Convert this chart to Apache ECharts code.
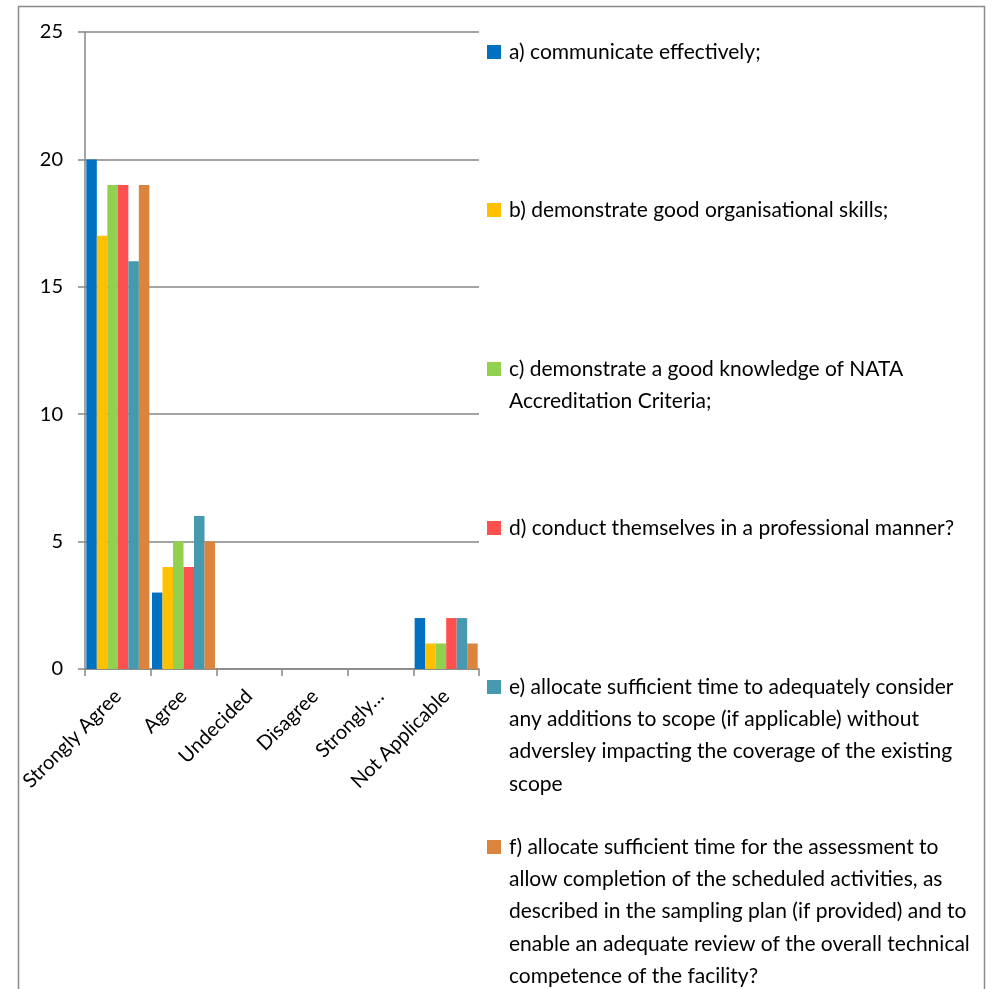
<!DOCTYPE html>
<html>
<head>
<meta charset="utf-8">
<script src="https://cdn.jsdelivr.net/npm/echarts@6/dist/echarts.min.js"></script>
<style>html,body{margin:0;padding:0;background:#fff}#c{width:1008px;height:989px}</style>
</head>
<body>
<div id="c"></div>
<script>
var categories = ['Strongly Agree', 'Agree', 'Undecided', 'Disagree', 'Strongly Disagree', 'Not Applicable'];
var tickLabels = ['Strongly Agree', 'Agree', 'Undecided', 'Disagree', 'Strongly…', 'Not Applicable'];
var seriesNames = [
  'a) communicate effectively;',
  'b) demonstrate good organisational skills;',
  'c) demonstrate a good knowledge of NATA Accreditation Criteria;',
  'd) conduct themselves in a professional manner?',
  'e) allocate sufficient time to adequately consider any additions to scope (if applicable) without adversley impacting the coverage of the existing scope',
  'f) allocate sufficient time for the assessment to allow completion of the scheduled activities, as described in the sampling plan (if provided) and to enable an adequate review of the overall technical competence of the facility?'
];
var legendLines = [
  ['a) communicate effectively;'],
  ['b) demonstrate good organisational skills;'],
  ['c) demonstrate a good knowledge of NATA', 'Accreditation Criteria;'],
  ['d) conduct themselves in a professional manner?'],
  ['e) allocate sufficient time to adequately consider', 'any additions to scope (if applicable) without', 'adversley impacting the coverage of the existing', 'scope'],
  ['f) allocate sufficient time for the assessment to', 'allow completion of the scheduled activities, as', 'described in the sampling plan (if provided) and to', 'enable an adequate review of the overall technical', 'competence of the facility?']
];
var valuesA = [20, 3, 0, 0, 0, 2];
var valuesB = [17, 4, 0, 0, 0, 1];
var valuesC = [19, 5, 0, 0, 0, 1];
var valuesD = [19, 4, 0, 0, 0, 2];
var valuesE = [16, 6, 0, 0, 0, 2];
var valuesF = [19, 5, 0, 0, 0, 1];
var yTicks = [0, 5, 10, 15, 20, 25];

var allValues = [valuesA, valuesB, valuesC, valuesD, valuesE, valuesF];
var colors = ['#0070C0', '#FFC000', '#92D050', '#FF5050', '#4799B0', '#DB843D'];
var legendTops = [52, 210, 369, 528, 687, 847];
var FONT = 'Lato';
var LFS = 21, LLH = 32.3;

var series = allValues.map(function (v, i) {
  return {
    name: seriesNames[i], type: 'bar', data: v,
    barGap: '0%', barCategoryGap: '4%',
    itemStyle: { color: colors[i] },
    emphasis: { disabled: true }
  };
});

var legends = seriesNames.map(function (n, i) {
  var rich = {
    m: { width: 14, height: 14, backgroundColor: colors[i] },
    s: { width: 8 },
    ind: { width: 22 },
    t: { fontFamily: FONT, fontSize: LFS, lineHeight: LLH, color: '#000' }
  };
  return {
    data: [n], left: 482, top: legendTops[i] - LLH / 2, padding: 0,
    itemWidth: 0, itemHeight: 0, selectedMode: false,
    textStyle: { rich: rich, fontFamily: FONT, fontSize: LFS, lineHeight: LLH },
    formatter: function () {
      return legendLines[i].map(function (l, k) {
        return (k === 0 ? '{m| }{s| }' : '{ind| }') + '{t|' + l + '}';
      }).join('\n');
    }
  };
});

var chart = echarts.init(document.getElementById('c'));
chart.setOption({
  animation: false,
  backgroundColor: '#fff',
  graphic: [{
    type: 'rect', shape: { x: 18.5, y: 6.5, width: 966, height: 990 },
    style: { fill: 'none', stroke: '#8a8a8a', lineWidth: 1.5 }, silent: true
  }],
  grid: { left: 85, top: 32, right: 529, bottom: 320 },
  legend: legends,
  xAxis: {
    type: 'category', data: categories,
    axisLine: { lineStyle: { color: '#868686', width: 1.5 } },
    axisTick: { show: true, length: 7, lineStyle: { color: '#868686', width: 1.5 } },
    axisLabel: {
      interval: 0, rotate: 45, margin: 24, color: '#000',
      fontFamily: FONT, fontSize: 20,
      formatter: function (v, idx) { return tickLabels[idx]; }
    }
  },
  yAxis: {
    type: 'value', min: 0, max: 25, interval: 5,
    axisLine: { show: true, lineStyle: { color: '#868686', width: 1.5 } },
    axisTick: { show: true, length: 7, lineStyle: { color: '#868686', width: 1.5 } },
    splitLine: { lineStyle: { color: '#868686', width: 1.5 } },
    axisLabel: {
      margin: 22, color: '#000', fontFamily: FONT, fontSize: 20,
      formatter: function (v) { return yTicks.indexOf(v) >= 0 ? String(v) : ''; }
    }
  },
  series: series
});
</script>
</body>
</html>
